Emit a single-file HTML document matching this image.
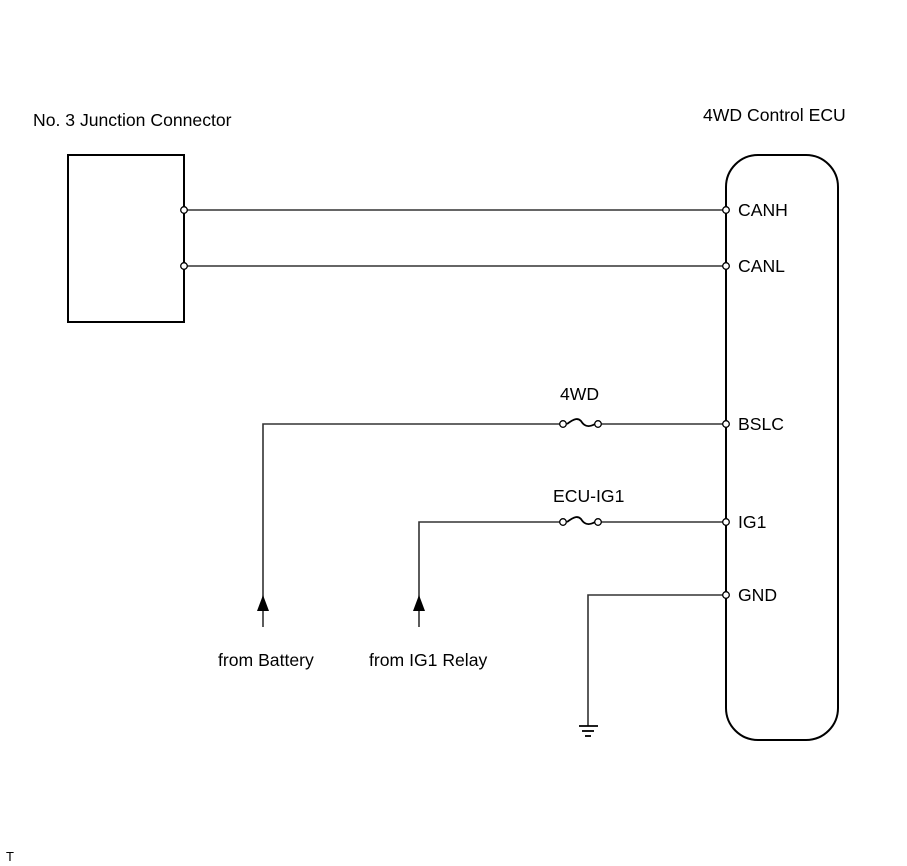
<!DOCTYPE html>
<html><head><meta charset="utf-8"><style>
html,body{margin:0;padding:0;background:#fff}
svg{display:block}
text{font-family:"Liberation Sans",Arial,sans-serif;font-size:17.6px;fill:#000}
</style></head><body>
<svg width="907" height="866" viewBox="0 0 907 866" xmlns="http://www.w3.org/2000/svg">
<g fill="none" stroke="#000" stroke-width="2">
<rect x="68" y="155" width="116" height="167"/>
<rect x="726" y="155" width="112" height="585" rx="32" ry="32"/>
</g>
<g fill="none" stroke="#333" stroke-width="1.6">
<line x1="187" y1="210" x2="723" y2="210"/>
<line x1="187" y1="266" x2="723" y2="266"/>
<polyline points="263,627 263,424 560,424"/>
<line x1="601" y1="424" x2="723" y2="424"/>
<polyline points="419,627 419,522 560,522"/>
<line x1="601" y1="522" x2="723" y2="522"/>
<polyline points="723,595 588,595 588,726"/>
</g>
<g fill="none" stroke="#000" stroke-width="1.8">
<path d="M567,424 C575,418 578,418 581,421 C584,426 588,428 595,424"/>
<path d="M567,522 C575,516 578,516 581,519 C584,524 588,526 595,522"/>
<line x1="579" y1="726" x2="598" y2="726"/>
<line x1="582" y1="731" x2="594" y2="731"/>
<line x1="585" y1="736" x2="591" y2="736"/>
</g>
<g fill="#fff" stroke="#000" stroke-width="1.3">
<circle cx="184" cy="210" r="3.3"/><circle cx="184" cy="266" r="3.3"/>
<circle cx="726" cy="210" r="3.3"/><circle cx="726" cy="266" r="3.3"/>
<circle cx="726" cy="424" r="3.3"/><circle cx="726" cy="522" r="3.3"/>
<circle cx="726" cy="595" r="3.3"/>
<circle cx="563" cy="424" r="3.3"/><circle cx="598" cy="424" r="3.3"/>
<circle cx="563" cy="522" r="3.3"/><circle cx="598" cy="522" r="3.3"/>
</g>
<polygon points="263,595 257,611 269,611" fill="#000"/>
<polygon points="419,595 413,611 425,611" fill="#000"/>
<text x="33" y="126">No. 3 Junction Connector</text>
<text x="703" y="121">4WD Control ECU</text>
<text x="738" y="216">CANH</text>
<text x="738" y="272">CANL</text>
<text x="738" y="430">BSLC</text>
<text x="738" y="528">IG1</text>
<text x="738" y="601">GND</text>
<text x="560" y="400">4WD</text>
<text x="553" y="502">ECU-IG1</text>
<text x="218" y="666">from Battery</text>
<text x="369" y="666">from IG1 Relay</text>
<text x="6" y="861" style="font-size:13px">T</text>
</svg>
</body></html>
